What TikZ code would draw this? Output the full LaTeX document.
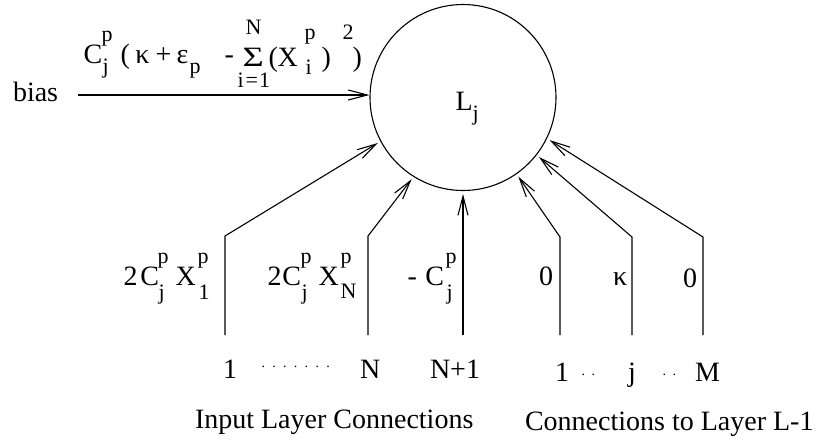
\documentclass[tikz,border=0pt]{standalone}
\usepackage{fontspec}
\setmainfont{Liberation Serif}
\usetikzlibrary{arrows.meta}

% script-size text for indices
\newcommand\scr{\fontsize{22}{24}\selectfont}
% place #2 at horizontal offset #1 from the start of the label, taking no width
\newcommand\putat[2]{\makebox[0pt][l]{\hspace*{#1}#2}}
\newcommand\up[2][22pt]{\raisebox{#1}{\scr #2}}
\newcommand\dn[2][12pt]{\raisebox{-#1}{\scr #2}}
% a row of #1 small dots, #2 apart, raised by #3
\newcommand\dotrow[3]{\foreach \k in {1,...,#1}{\putat{\dimexpr #2*(\k-1)\relax}{\raisebox{#3}{\fontsize{14}{14}\selectfont .}}}}

\begin{document}
\begin{tikzpicture}[x=1pt,y=-1pt,
  font=\fontsize{28}{32}\selectfont,
  txt/.style={anchor=base west, inner sep=0pt, outer sep=0pt},
  wire/.style={line width=1.1pt},
  feed/.style={wire, -{Straight Barb[length=19pt,width=10pt,line width=1.1pt]}},
  infeed/.style={feed, shorten >=3pt}]
\useasboundingbox (0,0) rectangle (819,442);

% the unit
\node[circle, draw, line width=1.1pt, minimum size=186pt, inner sep=0pt] (L) at (463,97.5) {};
\node[txt] (Lj) at (455,110) {\putat{0pt}{L}\putat{17pt}{\dn[10pt]{j}}};

% bias input
\node[txt] (bias) at (13,101) {bias};
\coordinate (bstart) at (78,95);
\draw[feed] (bstart) -- (bstart -| L.west);
\node[txt] (fa) at (83,63) {\putat{0pt}{C}\putat{18pt}{\up{p}}\putat{19pt}{\dn[10pt]{j}}\putat{37pt}{(}\putat{52pt}{κ}\putat{72pt}{+}\putat{93pt}{ε}\putat{106pt}{\dn[10pt]{p}}\putat{141pt}{-}};
\node[txt] (fb) at (242,66) {\putat{0pt}{\scalebox{1.3}[1.0]{Σ}}\putat{3pt}{\up[32pt]{N}}\putat{-5pt}{\dn[21pt]{i\hspace{2pt}=\hspace{1pt}1}}\putat{26pt}{(}\putat{35pt}{X}\putat{62pt}{\up[27pt]{p}}\putat{63pt}{\dn[8pt]{i}}\putat{79pt}{)}\putat{100pt}{\up[27pt]{2}}\putat{110pt}{)}};

% input-layer and previous-layer connections
\coordinate (a1) at (225,335); \coordinate (k1) at (225,236);
\coordinate (a2) at (368,335); \coordinate (k2) at (368,236);
\coordinate (a3) at (463,335);
\coordinate (a4) at (560,335); \coordinate (k4) at (560,237);
\coordinate (a5) at (632,335); \coordinate (k5) at (632,237);
\coordinate (a6) at (703,335); \coordinate (k6) at (703,237);
\draw[infeed] (a1) -- (k1) -- (L.208);
\draw[infeed] (a2) -- (k2) -- (L.238);
\draw[infeed] (a3) -- (L.270);
\draw[infeed] (a4) -- (k4) -- (L.305);
\draw[infeed] (a5) -- (k5) -- (L.322);
\draw[infeed] (a6) -- (k6) -- (L.334);

% weights
\node[txt] (wa) at (123,285) {\putat{0pt}{2}\putat{17pt}{C}\putat{34pt}{\up{p}}\putat{35pt}{\dn[14pt]{j}}\putat{52pt}{X}\putat{74pt}{\up{p}}\putat{75pt}{\dn[14pt]{1}}};
\node[txt] (wb) at (267,285) {\putat{0pt}{2}\putat{15pt}{C}\putat{33pt}{\up{p}}\putat{34pt}{\dn[14pt]{j}}\putat{51pt}{X}\putat{73pt}{\up{p}}\putat{73pt}{\dn[13pt]{N}}};
\node[txt] (wc) at (407,285) {\putat{0pt}{-}\putat{18pt}{C}\putat{38pt}{\up{p}}\putat{39pt}{\dn[14pt]{j}}};
\node[txt] (wd) at (539,285) {0};
\node[txt] (we) at (613,285) {κ};
\node[txt] (wf) at (683,287) {0};

% indices of the connections
\node[txt] (n1) at (223,378) {1};
\node[txt] (ndots) at (261,378) {\dotrow{7}{10.8pt}{11pt}};
\node[txt] (nN) at (360,378) {N};
\node[txt] (nN1) at (430,378) {N+1};
\node[txt] (m1) at (555,381) {1};
\node[txt] (mdotsa) at (581,381) {\dotrow{2}{10pt}{6pt}};
\node[txt] (mj) at (628,381) {j};
\node[txt] (mdotsb) at (662,381) {\dotrow{2}{10pt}{6pt}};
\node[txt] (mM) at (695,381) {M};

% group captions
\node[txt] (capA) at (195,428) {Input Layer Connections};
\node[txt] (capB) at (525,430) {Connections to Layer L-1};
\end{tikzpicture}
\end{document}
